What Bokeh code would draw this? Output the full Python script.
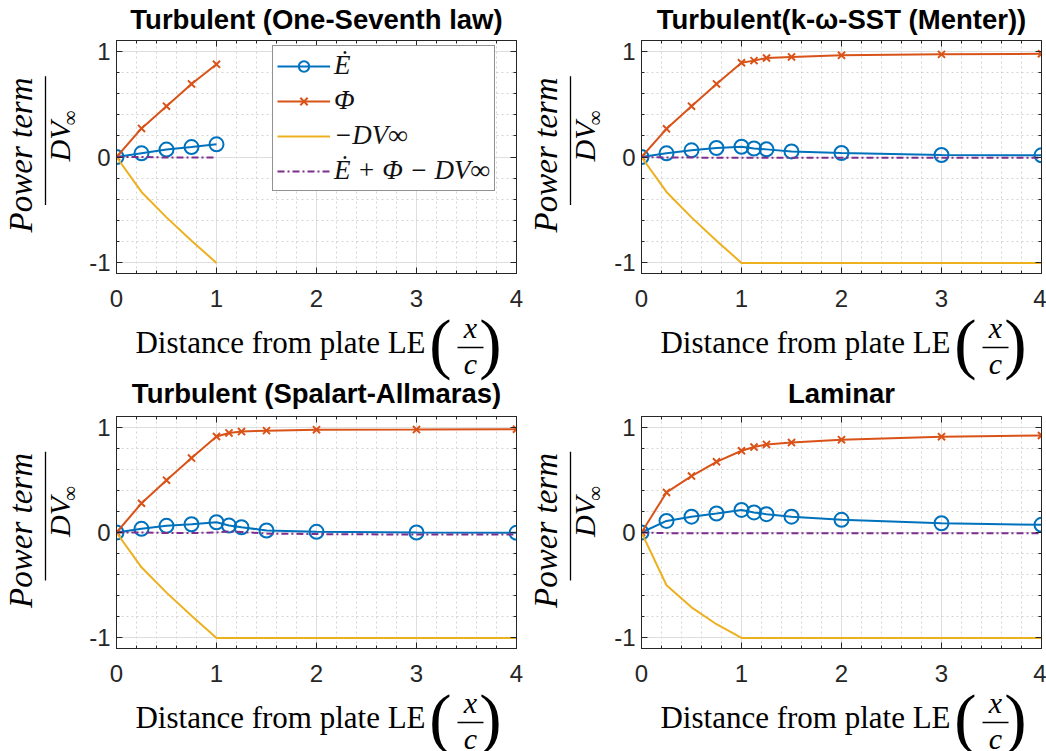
from bokeh.plotting import figure
from bokeh.models import (Range1d, FixedTicker, Label, Legend, LegendItem,
                          LinearAxis, CustomLabelingPolicy)
from bokeh.layouts import column, row
from bokeh.embed import file_html
from bokeh.resources import INLINE

# ---------------- data ----------------
titles = ["Turbulent (One-Seventh law)", "Turbulent(k-\u03c9-SST (Menter))",
          "Turbulent (Spalart-Allmaras)", "Laminar"]
x_ticks = [0, 1, 2, 3, 4]
y_ticks = [-1, 0, 1]
y_tick_labels = {-1: "-1", 0: "0", 1: "1"}

x_short = [0, 0.25, 0.5, 0.75, 1.0]
x_long = [0, 0.25, 0.5, 0.75, 1.0, 1.125, 1.25, 1.5, 2, 3, 4]

# Turbulent (One-Seventh law)
p1_x = x_short
p1_edot = [0, 0.035, 0.07, 0.094, 0.12]
p1_phi = [0, 0.27, 0.48, 0.69, 0.875]
p1_dv = [0, -0.33, -0.57, -0.79, -1.0]
p1_sum = [0, 0.0, -0.005, -0.005, -0.005]

# Turbulent k-omega SST
p2_x = x_long
p2_edot = [0, 0.035, 0.063, 0.085, 0.097, 0.08, 0.072, 0.053, 0.038, 0.019, 0.016]
p2_phi = [0, 0.266, 0.48, 0.69, 0.89, 0.91, 0.935, 0.945, 0.96, 0.969, 0.975]
p2_dv = [0, -0.33, -0.57, -0.79, -1.0, -1.0, -1.0, -1.0, -1.0, -1.0, -1.0]
p2_sum = [0, -0.005, -0.005, -0.008, -0.008, -0.006, -0.006, -0.006, -0.006, -0.006, -0.006]

# Turbulent Spalart-Allmaras
p3_x = x_long
p3_edot = [0, 0.035, 0.063, 0.078, 0.097, 0.066, 0.05, 0.019, 0.006, 0.0, -0.003]
p3_phi = [0, 0.277, 0.496, 0.706, 0.91, 0.944, 0.957, 0.966, 0.975, 0.976, 0.98]
p3_dv = [0, -0.33, -0.57, -0.79, -1.0, -1.0, -1.0, -1.0, -1.0, -1.0, -1.0]
p3_sum = [0, 0.0, -0.005, -0.005, 0.0, 0.01, 0.005, -0.01, -0.015, -0.02, -0.02]

# Laminar
p4_x = x_long
p4_edot = [0, 0.11, 0.15, 0.18, 0.214, 0.19, 0.174, 0.15, 0.12, 0.088, 0.073]
p4_phi = [0, 0.38, 0.535, 0.67, 0.775, 0.81, 0.835, 0.853, 0.88, 0.909, 0.92]
p4_dv = [0, -0.5, -0.71, -0.87, -1.0, -1.0, -1.0, -1.0, -1.0, -1.0, -1.0]
p4_sum = [0, -0.006, -0.006, -0.006, -0.006, -0.006, -0.006, -0.006, -0.006, -0.006, -0.006]

legend_labels = ["\u0116", "\u03a6", "\u2212DV\u221e", "\u0116 + \u03a6 \u2212 DV\u221e"]
ylabel_num = "Power term"
ylabel_den = "DV"
xlabel_text = "Distance from plate LE"

# ---------------- style ----------------
C_BLUE = "#0072BD"
C_ORANGE = "#D95319"
C_YELLOW = "#EDB120"
C_PURPLE = "#7E2F8E"
AX = "#262626"
SANS = "Liberation Sans"
SERIF = "Liberation Serif"

XR = (0, 4)
YR = (-1.1, 1.1)
FW = 400
TOTAL_W = 1046
YLAB_W = 78
BT, BB = 5, 46

FRAME_LEFT = [116, 641]
TOP_FT, TOP_FH = 40, 233
BOT_FT, BOT_FH = 416, 232
BAND_A = (0, TOP_FT - BT)
ROW1_TOP = BAND_A[1]
ROW1_H = BT + TOP_FH + BB
BAND_B = (ROW1_TOP + ROW1_H, BOT_FT - BT - (ROW1_TOP + ROW1_H))
ROW2_TOP = BAND_B[0] + BAND_B[1]
ROW2_H = BT + BOT_FH + BB
BAND_C = (ROW2_TOP + ROW2_H, 751 - (ROW2_TOP + ROW2_H))

HIDE_LABELS = """
const out = (typeof indices.clone === "function") ? indices.clone() : indices
for (const i of indices) { out.unset(i) }
return out
"""


def aux_fig(w, h):
    f = figure(width=w, height=h, output_backend="svg", toolbar_location=None,
               x_range=Range1d(0, w), y_range=Range1d(0, h),
               x_axis_location=None, y_axis_location=None,
               min_border=0, min_border_left=0, min_border_right=0,
               min_border_top=0, min_border_bottom=0,
               outline_line_color=None, background_fill_color="white",
               border_fill_color="white")
    f.grid.visible = False
    return f


def put(f, x, y, text, size, font=SERIF, style="normal", angle=0,
        align="center", baseline="middle", color="#000000"):
    f.add_layout(Label(x=x, y=y, text=text, text_font=font,
                       text_font_size=size, text_font_style=style,
                       angle=angle, angle_units="deg", text_align=align,
                       text_baseline=baseline, text_color=color))


def style_axis(ax):
    ax.axis_line_color = AX
    ax.major_tick_line_color = AX
    ax.minor_tick_line_color = AX
    ax.major_tick_in = 6
    ax.major_tick_out = 0
    ax.minor_tick_in = 3
    ax.minor_tick_out = 0


def make_plot(xs, edot, phi, dv, sm, bl, br, fh, legend=False):
    p = figure(width=bl + FW + br, height=BT + fh + BB, output_backend="svg",
               toolbar_location=None, x_range=Range1d(*XR),
               y_range=Range1d(*YR), min_border_left=bl, min_border_right=br,
               min_border_top=BT, min_border_bottom=BB,
               background_fill_color="white", border_fill_color="white",
               outline_line_color=AX, outline_line_width=1)
    xminor = [round(i * 0.2, 3) for i in range(0, 21)]
    yminor = [round(-1.2 + i * 0.2, 3) for i in range(0, 13)]
    xt = FixedTicker(ticks=x_ticks, minor_ticks=xminor)
    yt = FixedTicker(ticks=y_ticks, minor_ticks=yminor)
    p.xaxis.ticker = xt
    p.yaxis.ticker = yt
    p.yaxis.major_label_overrides = y_tick_labels
    for ax in (p.xaxis[0], p.yaxis[0]):
        ax.major_label_text_font = SANS
        ax.major_label_text_font_size = "24px"
        ax.major_label_text_color = "#262626"
        style_axis(ax)
    p.xaxis.major_label_standoff = 16
    p.yaxis.major_label_standoff = 6
    # box ticks on top and right edges (no labels)
    for loc, tk in (("above", xt), ("right", yt)):
        a = LinearAxis(ticker=tk, major_label_text_font_size="1px",
                       major_label_standoff=0,
                       major_label_policy=CustomLabelingPolicy(code=HIDE_LABELS))
        style_axis(a)
        p.add_layout(a, loc)
    for g in (p.xgrid[0], p.ygrid[0]):
        g.grid_line_color = "#dedede"
        g.grid_line_width = 1
        g.minor_grid_line_color = "#d4d4d4"
        g.minor_grid_line_dash = "2 3"
        g.minor_grid_line_width = 1

    l1 = p.line(xs, edot, line_color=C_BLUE, line_width=2)
    s1 = p.scatter(xs, edot, marker="circle", size=14, fill_color=None,
                   line_color=C_BLUE, line_width=2)
    l2 = p.line(xs, phi, line_color=C_ORANGE, line_width=2)
    s2 = p.scatter(xs, phi, marker="x", size=10, line_color=C_ORANGE,
                   line_width=2)
    l3 = p.line(xs, dv, line_color=C_YELLOW, line_width=2)
    l4 = p.line(xs, sm, line_color=C_PURPLE, line_width=2,
                line_dash="7 3 2 3")

    if legend:
        items = [LegendItem(label=legend_labels[0], renderers=[l1, s1]),
                 LegendItem(label=legend_labels[1], renderers=[l2, s2]),
                 LegendItem(label=legend_labels[2], renderers=[l3]),
                 LegendItem(label=legend_labels[3], renderers=[l4])]
        lg = Legend(items=items, location=(156, 82), orientation="vertical",
                    label_text_font=SERIF, label_text_font_style="italic",
                    label_text_font_size="27px", label_text_color="#111111",
                    glyph_width=53, glyph_height=26, label_height=26,
                    label_standoff=4, spacing=4, padding=4, margin=0,
                    border_line_color=AX, border_line_width=1,
                    background_fill_color="white", background_fill_alpha=1)
        p.add_layout(lg)
    return p


def ylabel_fig(fl, row_top, row_h, ft, fh):
    f = aux_fig(YLAB_W, row_h)
    fc = ft + fh / 2.0
    x0 = fl - (116 if fl == FRAME_LEFT[0] else 118)   # page x of fig left edge

    def X(px):
        return px - x0

    def Y(py):
        return row_h - (py - row_top)
    put(f, X(fl - 96), Y(fc + 18), ylabel_num, "33px", style="italic", angle=90)
    f.segment(x0=[X(fl - 71)], y0=[Y(fc - 78)], x1=[X(fl - 71)],
              y1=[Y(fc + 79)], line_color="#000000", line_width=1.3)
    put(f, X(fl - 57), Y(fc + 26), ylabel_den, "30px", style="italic",
        angle=90, align="left")
    put(f, X(fl - 47), Y(fc - 18), "\u221e", "21px", angle=90, align="left")
    return f


def band_fig(top, h):
    return aux_fig(TOTAL_W, h), (lambda py: top + h - py)


def add_title(f, Y, fl, ft, gap, text):
    put(f, fl + FW / 2, Y(ft - gap - 10), text, "27.5px", font=SANS,
        style="bold")


def add_xlabel(f, Y, fl, fb):
    put(f, fl + 164, Y(fb + 69), xlabel_text, "31px")
    put(f, fl + 324, Y(fb + 69.5), "(", "67px")
    put(f, fl + 374, Y(fb + 69.5), ")", "67px")
    put(f, fl + 354, Y(fb + 53.5), "x", "30px", style="italic")
    f.segment(x0=[fl + 341], y0=[Y(fb + 74)], x1=[fl + 367], y1=[Y(fb + 74)],
              line_color="#000000", line_width=1.3)
    put(f, fl + 354, Y(fb + 89.5), "c", "30px", style="italic")


fa, YA = band_fig(*BAND_A)
add_title(fa, YA, FRAME_LEFT[0], TOP_FT, 11, titles[0])
add_title(fa, YA, FRAME_LEFT[1], TOP_FT, 11, titles[1])

fbnd, YB = band_fig(*BAND_B)
add_xlabel(fbnd, YB, FRAME_LEFT[0], TOP_FT + TOP_FH)
add_xlabel(fbnd, YB, FRAME_LEFT[1], TOP_FT + TOP_FH)
add_title(fbnd, YB, FRAME_LEFT[0], BOT_FT, 13, titles[2])
add_title(fbnd, YB, FRAME_LEFT[1], BOT_FT, 13, titles[3])

fc_, YC = band_fig(*BAND_C)
add_xlabel(fc_, YC, FRAME_LEFT[0], BOT_FT + BOT_FH)
add_xlabel(fc_, YC, FRAME_LEFT[1], BOT_FT + BOT_FH)

BL = [FRAME_LEFT[0] - YLAB_W, FRAME_LEFT[1] - 523 - YLAB_W]
BR = [523 - FRAME_LEFT[0] - FW, TOTAL_W - FRAME_LEFT[1] - FW]

p1 = make_plot(p1_x, p1_edot, p1_phi, p1_dv, p1_sum, BL[0], BR[0], TOP_FH,
               legend=True)
p2 = make_plot(p2_x, p2_edot, p2_phi, p2_dv, p2_sum, BL[1], BR[1], TOP_FH)
p3 = make_plot(p3_x, p3_edot, p3_phi, p3_dv, p3_sum, BL[0], BR[0], BOT_FH)
p4 = make_plot(p4_x, p4_edot, p4_phi, p4_dv, p4_sum, BL[1], BR[1], BOT_FH)

y1 = ylabel_fig(FRAME_LEFT[0], ROW1_TOP, ROW1_H, TOP_FT, TOP_FH)
y2 = ylabel_fig(FRAME_LEFT[1], ROW1_TOP, ROW1_H, TOP_FT, TOP_FH)
y3 = ylabel_fig(FRAME_LEFT[0], ROW2_TOP, ROW2_H, BOT_FT, BOT_FH)
y4 = ylabel_fig(FRAME_LEFT[1], ROW2_TOP, ROW2_H, BOT_FT, BOT_FH)

layout = column(fa, row(y1, p1, y2, p2), fbnd, row(y3, p3, y4, p4), fc_)
open("out.html", "w").write(file_html(layout, INLINE))
